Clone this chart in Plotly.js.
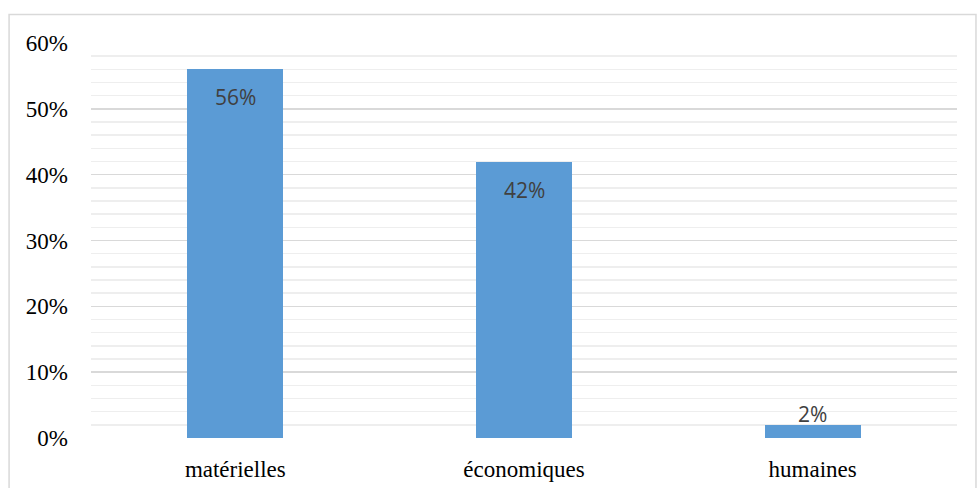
<!DOCTYPE html>
<html>
<head>
<meta charset="utf-8">
<script src="https://cdn.plot.ly/plotly-3.0.1.min.js"></script>
<style>html,body{margin:0;padding:0;background:#fff;}#chart{width:978px;height:488px;}</style>
</head>
<body>
<div id="chart"></div>
<script>
const categories = ["matérielles", "économiques", "humaines"];
const values = [0.56, 0.42, 0.02];
const labels = ["56%", "42%", "2%"];
const labelInside = [true, true, false];
const yTickVals = [0, 0.1, 0.2, 0.3, 0.4, 0.5, 0.6];
const yTickText = ["0%", "10%", "20%", "30%", "40%", "50%", "60%"];

const trace = {
  type: "bar",
  x: categories,
  y: values,
  textposition: "none",
  marker: {color: "#5b9bd5"},
  width: 0.332,
  hoverinfo: "none"
};

const labelFont = {family: "Open Sans, Noto Sans, sans-serif", size: 21, color: "#404040"};
const annotations = categories.map((c, i) => ({
  x: c, y: values[i], xref: "x", yref: "y",
  text: labels[i], showarrow: false,
  xanchor: "center", yanchor: "middle",
  yshift: labelInside[i] ? -28 : 11,
  font: labelFont
}));

const layout = {
  width: 978,
  height: 488,
  margin: {l: 90.5, r: 20.5, t: 43, b: 50},
  paper_bgcolor: "#ffffff",
  plot_bgcolor: "#ffffff",
  showlegend: false,
  bargap: 0,
  xaxis: {
    type: "category",
    showgrid: false,
    zeroline: false,
    showline: false,
    ticks: "",
    ticklabelstandoff: 15,
    tickfont: {family: "Liberation Serif, Times New Roman, serif", size: 23, color: "#000000"}
  },
  yaxis: {
    range: [0, 0.6],
    tickvals: yTickVals,
    ticktext: yTickText,
    showgrid: true,
    gridcolor: "#d9d9d9",
    gridwidth: 1.5,
    zeroline: false,
    showline: false,
    ticks: "",
    ticklabelstandoff: 22,
    tickfont: {family: "Liberation Serif, Times New Roman, serif", size: 23, color: "#000000"},
    minor: {dtick: 0.02, tick0: 0, showgrid: true, gridcolor: "#eeeeee", gridwidth: 1.5, ticks: ""}
  },
  annotations: annotations,
  shapes: [{
    type: "rect", xref: "paper", yref: "paper", layer: "below",
    x0: -0.0946, x1: 1.0219, y0: -0.2, y1: 1.0722,
    line: {color: "#d9d9d9", width: 1.5}, fillcolor: "rgba(0,0,0,0)"
  }]
};

Plotly.newPlot("chart", [trace], layout, {staticPlot: true, displayModeBar: false});
</script>
</body>
</html>
